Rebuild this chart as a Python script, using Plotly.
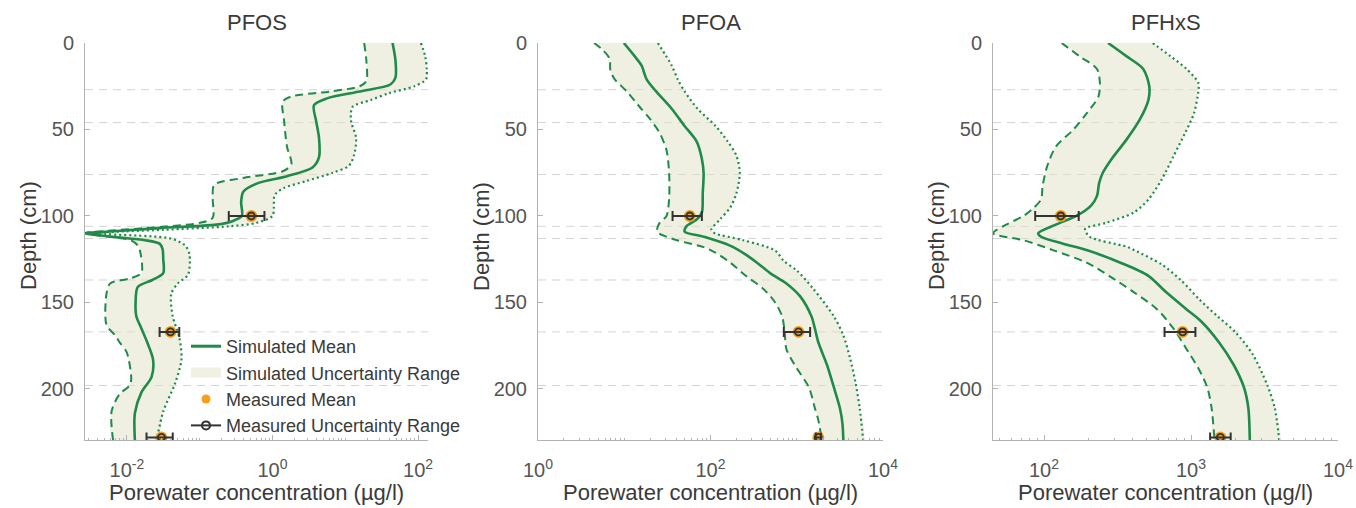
import math
import plotly.graph_objects as go

FONT = "Liberation Sans, Arial, Helvetica, sans-serif"
GREEN = "#1f8a4a"
FILL = "rgba(226,226,198,0.5)"
ORANGE = "#f5a01a"
DARK = "#333333"
AXC = "#b3b3b3"
TICKC = "#555555"
TEXTC = "#3a3a3a"

# ---------------- data (depth in cm, concentration as log10 of µg/l) ----------------
layer_depths = [27, 46, 76, 106, 113, 137, 167, 198]
meas_depth = [100, 167, 228]

# PFOS
pfos_mean_depth = [0, 10, 20, 24, 28, 32, 36, 45, 55, 66, 72, 77, 81, 86, 92, 100, 103, 105, 107, 109,
                   110, 112, 114, 116, 119, 125, 133, 137, 141, 150, 158, 165, 172, 183, 193, 202, 214, 229.5]
pfos_mean_log = [1.65, 1.69, 1.69, 1.62, 1.20, 0.75, 0.57, 0.60, 0.64, 0.64, 0.55, 0.20, -0.20, -0.40, -0.43,
                 -0.42, -0.55, -0.77, -1.55, -2.23, -2.575, -2.2, -1.75, -1.55, -1.51, -1.50, -1.50, -1.65,
                 -1.85, -1.88, -1.87, -1.80, -1.73, -1.64, -1.66, -1.80, -1.89, -1.89]
pfos_low_depth = [0, 10, 22, 25, 28, 31, 34, 45, 60, 70, 74, 78, 82, 90, 101, 104, 107, 110, 112, 114,
                  117, 120, 133, 136, 139, 145, 163, 169, 173, 179, 194, 198, 203, 213, 229.5]
pfos_low_log = [1.26, 1.29, 1.29, 1.20, 0.80, 0.25, 0.14, 0.16, 0.20, 0.26, 0.15, -0.40, -0.80, -0.82, -0.82,
                -1.0, -1.75, -2.575, -2.25, -1.95, -1.85, -1.82, -1.80, -1.95, -2.23, -2.28, -2.28, -2.16,
                -2.10, -2.00, -1.94, -1.96, -2.10, -2.21, -2.19]
pfos_high_depth = [0, 8, 15, 21, 25, 29, 33, 37, 45, 55, 65, 71, 75, 80, 84, 88, 95, 100, 104, 106,
                   108, 110, 113, 117, 122, 134, 139, 145, 158, 170, 183, 197, 213, 229.5]
pfos_high_log = [2.04, 2.10, 2.12, 2.11, 1.95, 1.60, 1.35, 1.10, 1.08, 1.15, 1.12, 1.05, 0.83, 0.45, 0.15,
                 0.03, 0.02, 0.00, -0.22, -0.6, -1.5, -2.45, -1.40, -1.20, -1.14, -1.16, -1.30, -1.39,
                 -1.37, -1.28, -1.25, -1.34, -1.50, -1.59]
pfos_meas_log = [-0.29, -1.40, -1.525]
pfos_meas_lo_log = [-0.60, -1.55, -1.73]
pfos_meas_hi_log = [-0.11, -1.28, -1.37]

# PFOA
pfoa_mean_depth = [0, 7.6, 13, 21, 28, 38, 48, 57, 67, 75, 87, 98, 102, 106, 109, 112, 117, 122, 127, 133,
                   139, 146.5, 158, 165, 173, 186, 199, 211, 220, 229.5]
pfoa_mean_log = [0.995, 1.12, 1.20, 1.26, 1.37, 1.55, 1.70, 1.84, 1.90, 1.92, 1.91, 1.90, 1.84, 1.72, 1.70,
                 1.92, 2.22, 2.40, 2.54, 2.69, 2.88, 3.04, 3.17, 3.21, 3.25, 3.35, 3.43, 3.50, 3.53, 3.54]
pfoa_low_depth = [0, 4, 9, 16, 21, 28, 37, 44, 52, 62, 75, 90, 100, 104, 108, 110, 114, 118, 121, 127,
                  135, 142, 150, 158, 167, 177, 188, 199, 211, 218, 229.5]
pfoa_low_log = [0.65, 0.75, 0.83, 0.84, 0.89, 1.03, 1.18, 1.30, 1.41, 1.49, 1.52, 1.52, 1.49, 1.41, 1.38,
                1.40, 1.61, 1.92, 2.05, 2.23, 2.42, 2.61, 2.75, 2.83, 2.86, 2.88, 3.00, 3.14, 3.21, 3.25, 3.29]
pfoa_high_depth = [0, 13, 21, 28, 38, 48, 57, 65, 75, 87, 95, 102, 108, 110, 114, 120, 126, 131.5, 142,
                   158, 169, 182.5, 196, 211, 229.5]
pfoa_high_log = [1.39, 1.55, 1.62, 1.70, 1.85, 2.06, 2.20, 2.30, 2.34, 2.30, 2.23, 2.11, 2.01, 2.05, 2.38,
                 2.75, 2.85, 3.00, 3.19, 3.43, 3.54, 3.62, 3.68, 3.73, 3.77]
pfoa_meas_log = [1.76, 3.02, 3.25]
pfoa_meas_lo_log = [1.56, 2.85, 3.22]
pfoa_meas_hi_log = [1.90, 3.155, 3.28]

# PFHxS
pfhxs_mean_depth = [0, 7.6, 15, 25, 33, 44.5, 56, 67, 75, 81, 88.5, 94, 100, 105, 110, 112, 116, 120, 127,
                    134.6, 144, 154, 161, 173, 186, 199, 211, 229.5]
pfhxs_mean_log = [2.436, 2.56, 2.675, 2.716, 2.71, 2.65, 2.56, 2.46, 2.40, 2.375, 2.36, 2.32, 2.22, 2.08,
                  1.96, 1.98, 2.13, 2.30, 2.52, 2.71, 2.83, 2.97, 3.07, 3.19, 3.29, 3.36, 3.39, 3.40]
pfhxs_low_depth = [0, 7.6, 15, 23, 31, 40.7, 50, 60, 71.6, 83, 90.5, 96, 100, 106, 110, 114, 120, 127, 135,
                   144, 154, 165, 177, 188, 199, 211, 229.5]
pfhxs_low_log = [2.12, 2.24, 2.36, 2.38, 2.37, 2.29, 2.20, 2.08, 2.02, 1.99, 1.98, 1.92, 1.86, 1.72, 1.653,
                 1.86, 2.07, 2.29, 2.45, 2.61, 2.77, 2.88, 2.97, 3.05, 3.11, 3.14, 3.16]
pfhxs_high_depth = [0, 7.6, 15, 23, 28, 40.7, 52, 65.6, 79, 90.5, 98, 104, 107.5, 112, 117.7, 120, 128, 137,
                    148.5, 158, 167, 180, 198, 211, 229.5]
pfhxs_high_log = [2.74, 2.86, 2.97, 3.05, 3.05, 3.02, 2.96, 2.88, 2.80, 2.71, 2.61, 2.42, 2.28, 2.31, 2.56,
                  2.62, 2.80, 2.93, 3.06, 3.18, 3.30, 3.42, 3.52, 3.57, 3.60]
pfhxs_meas_log = [2.114, 2.943, 3.20]
pfhxs_meas_lo_log = [1.94, 2.82, 3.13]
pfhxs_meas_hi_log = [2.236, 3.03, 3.27]

titles = ["PFOS", "PFOA", "PFHxS"]
x_ranges_log = [[-2.575, 2.137], [0, 4], [1.653, 4]]
major_exps = [[-2, 0, 2], [0, 2, 4], [2, 3, 4]]
depth_ticks = [0, 50, 100, 150, 200]
depth_range = [229.5, 0]
x_title = "Porewater concentration (µg/l)"
y_title = "Depth (cm)"

# ---------------- layout geometry (pixels) ----------------
W, H = 1356, 508
x_px = [(85, 428), (538, 883), (993, 1338)]
y_top, y_bot = 43, 440


def p(v):
    return [10 ** t for t in v]


panels = [
    dict(mean=(pfos_mean_depth, pfos_mean_log), low=(pfos_low_depth, pfos_low_log),
         high=(pfos_high_depth, pfos_high_log), meas=(pfos_meas_log, pfos_meas_lo_log, pfos_meas_hi_log)),
    dict(mean=(pfoa_mean_depth, pfoa_mean_log), low=(pfoa_low_depth, pfoa_low_log),
         high=(pfoa_high_depth, pfoa_high_log), meas=(pfoa_meas_log, pfoa_meas_lo_log, pfoa_meas_hi_log)),
    dict(mean=(pfhxs_mean_depth, pfhxs_mean_log), low=(pfhxs_low_depth, pfhxs_low_log),
         high=(pfhxs_high_depth, pfhxs_high_log), meas=(pfhxs_meas_log, pfhxs_meas_lo_log, pfhxs_meas_hi_log)),
]

fig = go.Figure()
SM = 0.8
for i, pn in enumerate(panels):
    xa = "x" if i == 0 else f"x{i+1}"
    ya = "y" if i == 0 else f"y{i+1}"
    ld, ll = pn["low"]
    hd, hl = pn["high"]
    md, ml = pn["mean"]
    fig.add_trace(go.Scatter(
        x=p(ll) + p(hl[::-1]), y=list(ld) + list(hd[::-1]), mode="lines", fill="toself",
        fillcolor=FILL, line=dict(width=0, shape="spline", smoothing=SM), showlegend=False,
        hoverinfo="skip", xaxis=xa, yaxis=ya))
    fig.add_trace(go.Scatter(x=p(ll), y=ld, mode="lines", showlegend=False,
                             line=dict(color=GREEN, width=2, dash="8px,5px", shape="spline", smoothing=SM),
                             xaxis=xa, yaxis=ya))
    fig.add_trace(go.Scatter(x=p(hl), y=hd, mode="lines", showlegend=False,
                             line=dict(color=GREEN, width=2.2, dash="2px,3px", shape="spline", smoothing=SM),
                             xaxis=xa, yaxis=ya))
    fig.add_trace(go.Scatter(x=p(ml), y=md, mode="lines", showlegend=False,
                             line=dict(color=GREEN, width=2.6, shape="spline", smoothing=SM),
                             xaxis=xa, yaxis=ya))
    mm, mlo, mhi = pn["meas"]
    mv = p(mm)
    lo = p(mlo)
    hi = p(mhi)
    fig.add_trace(go.Scatter(x=mv, y=meas_depth, mode="markers", showlegend=False,
                             marker=dict(color=ORANGE, size=12, line=dict(width=0)),
                             xaxis=xa, yaxis=ya))
    fig.add_trace(go.Scatter(
        x=mv, y=meas_depth, mode="markers", showlegend=False,
        marker=dict(symbol="circle-open", color=DARK, size=7, line=dict(width=1.8, color=DARK)),
        error_x=dict(type="data", symmetric=False,
                     array=[h - m for h, m in zip(hi, mv)],
                     arrayminus=[m - l for m, l in zip(mv, lo)],
                     color=DARK, thickness=2, width=5),
        xaxis=xa, yaxis=ya))

# legend-only entries
fig.add_trace(go.Scatter(x=[None], y=[None], mode="lines", name="Simulated Mean",
                         line=dict(color=GREEN, width=3)))
fig.add_trace(go.Scatter(x=[None], y=[None], mode="lines", name="Simulated Uncertainty Range",
                         line=dict(color="#f0f0e3", width=15)))
fig.add_trace(go.Scatter(x=[None], y=[None], mode="markers", name="Measured Mean",
                         marker=dict(color=ORANGE, size=9)))
fig.add_trace(go.Scatter(x=[None], y=[None], mode="lines+markers", name="Measured Uncertainty Range",
                         line=dict(color=DARK, width=2),
                         marker=dict(symbol="circle-open", color=DARK, size=8, line=dict(width=2))))

layout = dict(
    width=W, height=H, margin=dict(l=0, r=0, t=0, b=0),
    paper_bgcolor="white", plot_bgcolor="white",
    font=dict(family=FONT, color=TICKC, size=20),
    showlegend=True,
    legend=dict(x=186 / W, y=1 - 328 / H, xanchor="left", yanchor="top",
                bgcolor="rgba(0,0,0,0)", borderwidth=0,
                font=dict(family=FONT, size=18, color=TEXTC), tracegroupgap=0),
)

annotations = []
shapes = []
for i in range(3):
    xs = "" if i == 0 else str(i + 1)
    x0, x1 = x_px[i]
    lo_e, hi_e = x_ranges_log[i]
    minor_vals = []
    for e in range(math.floor(lo_e) - 1, math.ceil(hi_e) + 1):
        for m in range(1, 10):
            lv = e + math.log10(m)
            if lo_e <= lv <= hi_e and not (m == 1 and e in major_exps[i]):
                minor_vals.append(m * 10 ** e)
    layout["xaxis" + xs] = dict(
        domain=[x0 / W, x1 / W], anchor="y" + xs, type="log", range=[lo_e, hi_e],
        tickmode="array", tickvals=[10 ** e for e in major_exps[i]],
        ticktext=[f"10<sup>{e}</sup>" for e in major_exps[i]],
        ticks="inside", ticklen=5, tickcolor=AXC, tickwidth=1,
        showline=True, linecolor=AXC, linewidth=1, mirror=False,
        showgrid=False, zeroline=False, ticklabelstandoff=12,
        tickfont=dict(size=20, color=TICKC),
        minor=dict(tickmode="array", tickvals=minor_vals, ticks="inside", ticklen=2.5,
                   tickcolor=AXC, tickwidth=1, showgrid=False),
        automargin=False, fixedrange=True,
    )
    layout["yaxis" + xs] = dict(
        domain=[1 - y_bot / H, 1 - y_top / H], anchor="x" + xs, range=depth_range,
        tickmode="array", tickvals=depth_ticks, ticks="inside", ticklen=5, tickcolor=AXC,
        showline=True, linecolor=AXC, linewidth=1, mirror=False, showgrid=False, zeroline=False,
        ticklabelstandoff=6, tickfont=dict(size=20, color=TICKC), automargin=False, fixedrange=True,
    )
    cx = (x0 + x1) / 2
    annotations.append(dict(text=titles[i], x=cx / W, y=1 - 22 / H, xref="paper", yref="paper",
                            showarrow=False, xanchor="center", yanchor="middle",
                            font=dict(size=22, color=TEXTC, family=FONT)))
    annotations.append(dict(text=x_title, x=cx / W, y=1 - 492 / H, xref="paper", yref="paper",
                            showarrow=False, xanchor="center", yanchor="middle",
                            font=dict(size=22, color=TEXTC, family=FONT)))
    annotations.append(dict(text=y_title, x=(x0 - 57) / W, y=1 - 236 / H, xref="paper", yref="paper",
                            showarrow=False, xanchor="center", yanchor="middle", textangle=-90,
                            font=dict(size=22, color=TEXTC, family=FONT)))
    for d in layer_depths:
        shapes.append(dict(type="line", xref=f"x{xs} domain", yref="y" + xs, x0=0, x1=1, y0=d, y1=d,
                           line=dict(color="#d4d4d4", width=1, dash="8px,6px"), layer="below"))

layout["annotations"] = annotations
layout["shapes"] = shapes
fig.update_layout(**layout)
fig.write_html("out.html")
